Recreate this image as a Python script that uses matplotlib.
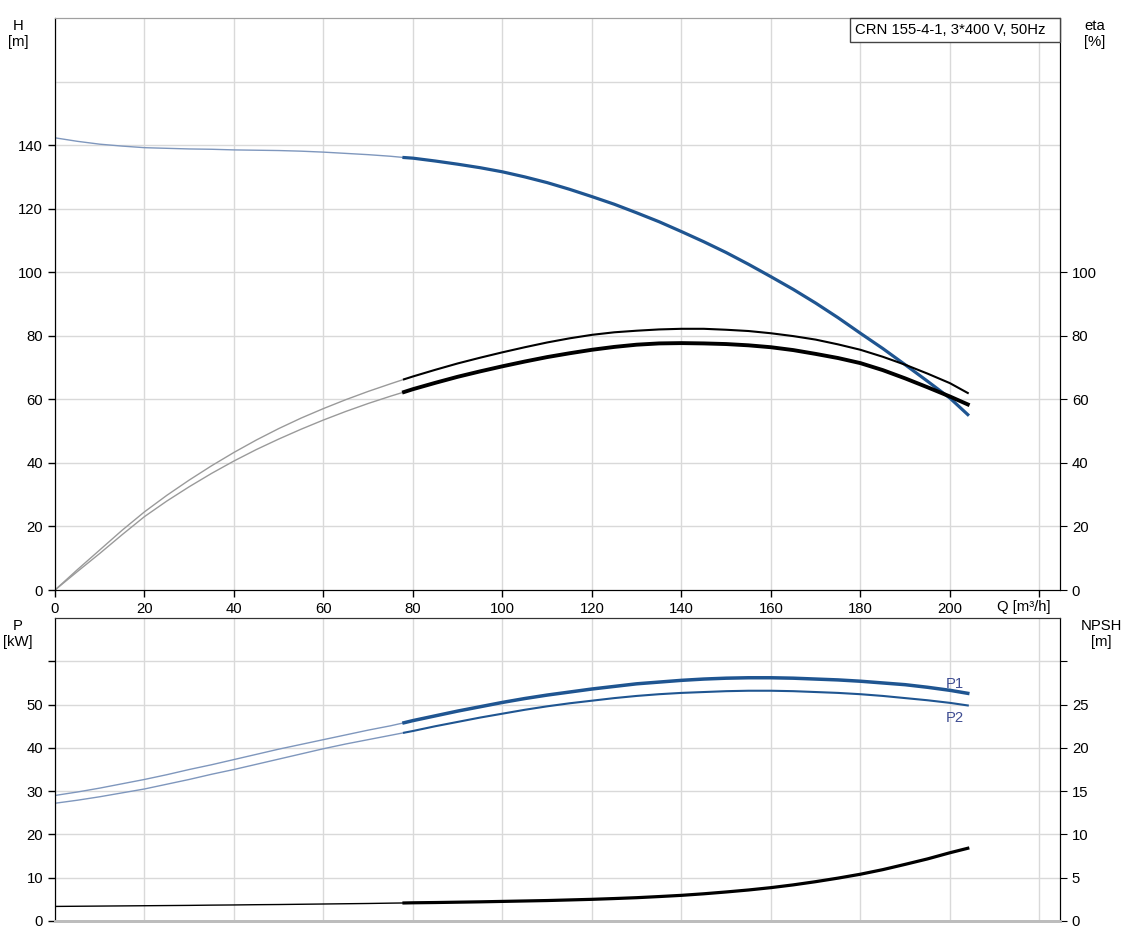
import numpy as np
import matplotlib.pyplot as plt
from matplotlib.patches import Rectangle

plt.rcParams['font.family'] = ['Liberation Sans', 'DejaVu Sans']
plt.rcParams['font.size'] = 10.7

# values (Q in m3/h)
q = [0, 5, 10, 15, 20, 25, 30, 35, 40, 45, 50, 55, 60, 65, 70, 75, 78, 80, 85, 90, 95, 100,
     105, 110, 115, 120, 125, 130, 135, 140, 145, 150, 155, 160, 165, 170, 175, 180, 185, 190,
     195, 200, 204]
head = [142.3, 141.2, 140.3, 139.7, 139.2, 139.0, 138.8, 138.7, 138.5, 138.4, 138.3, 138.1,
        137.8, 137.4, 137.0, 136.5, 136.1, 135.9, 135.0, 134.0, 132.9, 131.6, 130.0, 128.2,
        126.1, 123.8, 121.4, 118.7, 115.9, 112.8, 109.6, 106.2, 102.5, 98.6, 94.6, 90.3, 85.7,
        80.8, 76.0, 70.9, 65.7, 60.4, 55.2]
eta_pump = [0, 6.4, 12.6, 18.8, 24.6, 29.8, 34.6, 39.1, 43.3, 47.2, 50.8, 54.1, 57.1, 59.9,
            62.5, 64.9, 66.3, 67.2, 69.3, 71.3, 73.1, 74.8, 76.4, 77.9, 79.2, 80.3, 81.1, 81.6,
            82.0, 82.2, 82.2, 81.9, 81.5, 80.8, 79.9, 78.8, 77.3, 75.6, 73.4, 70.9, 68.1, 65.1,
            62.0]
eta_total = [0, 5.8, 11.5, 17.4, 23.1, 28.0, 32.5, 36.7, 40.6, 44.2, 47.5, 50.6, 53.5, 56.2,
             58.7, 61.0, 62.3, 63.2, 65.2, 67.1, 68.8, 70.4, 71.9, 73.3, 74.5, 75.6, 76.5, 77.2,
             77.6, 77.7, 77.6, 77.4, 77.0, 76.4, 75.5, 74.3, 73.0, 71.4, 69.2, 66.6, 63.8, 60.9,
             58.4]
p1 = [29.0, 29.8, 30.7, 31.7, 32.7, 33.8, 35.0, 36.1, 37.3, 38.5, 39.7, 40.8, 41.9, 43.0, 44.1,
      45.1, 45.8, 46.3, 47.4, 48.5, 49.5, 50.5, 51.4, 52.2, 52.9, 53.6, 54.2, 54.8, 55.2, 55.6,
      55.9, 56.1, 56.2, 56.2, 56.1, 55.9, 55.7, 55.4, 55.0, 54.6, 54.0, 53.3, 52.6]
p2 = [27.2, 27.9, 28.7, 29.6, 30.5, 31.6, 32.7, 33.9, 35.0, 36.2, 37.4, 38.6, 39.8, 40.9, 41.9,
      42.9, 43.5, 43.9, 45.0, 46.0, 47.0, 47.9, 48.8, 49.6, 50.3, 50.9, 51.5, 52.0, 52.4, 52.7,
      52.9, 53.1, 53.2, 53.2, 53.1, 52.9, 52.7, 52.4, 52.0, 51.5, 51.0, 50.4, 49.8]
npsh = [1.68, 1.70, 1.72, 1.74, 1.76, 1.78, 1.80, 1.83, 1.85, 1.88, 1.90, 1.93, 1.96, 1.99,
        2.02, 2.06, 2.08, 2.10, 2.13, 2.17, 2.21, 2.26, 2.31, 2.36, 2.43, 2.50, 2.59, 2.69,
        2.82, 2.96, 3.14, 3.35, 3.58, 3.85, 4.17, 4.54, 4.95, 5.40, 5.93, 6.54, 7.17, 7.88, 8.40]

q_min_flow = 78  # bold part starts here
title = 'CRN 155-4-1, 3*400 V, 50Hz'

blue = '#1f5591'
thin_blue = '#7f97bd'
grid_c = '#d9d9d9'
label_c = '#3f4d92'

q = np.array(q)
lo = q <= q_min_flow
hi = q >= q_min_flow

fig = plt.figure(figsize=(11.34, 9.44), dpi=100)
ax1 = fig.add_axes([0.0485, 0.375, 0.8862, 0.6059])
ax2 = fig.add_axes([0.0485, 0.0244, 0.8862, 0.3209])


def style(ax, ylim, grid_y):
    ax.set_xlim(0, 224.6)
    ax.set_ylim(*ylim)
    ax.set_xticks(np.arange(0, 221, 20))
    for x in np.arange(0, 221, 20):
        ax.axvline(x, color=grid_c, lw=1, zorder=0)
    for y in grid_y:
        ax.axhline(y, color=grid_c, lw=1, zorder=0)
    ax.tick_params(direction='out', length=5, width=1, colors='black', labelsize=10.7)


# ---- top: head + efficiency
style(ax1, (0, 180), np.arange(20, 161, 20))
ax1.set_yticks(np.arange(0, 141, 20))
ax1.set_xticklabels([str(v) for v in range(0, 201, 20)] + [''])
ax1.text(216.5, -3.0, 'Q [m³/h]', ha='center', va='top', fontsize=10.7)

ax1.plot(q[lo], np.array(head)[lo], color=thin_blue, lw=1.0)
ax1.plot(q[hi], np.array(head)[hi], color=blue, lw=2.3)
ax1.plot(q[lo], np.array(eta_pump)[lo], color='#9a9a9a', lw=1.0)
ax1.plot(q[hi], np.array(eta_pump)[hi], color='black', lw=1.5)
ax1.plot(q[lo], np.array(eta_total)[lo], color='#9a9a9a', lw=1.0)
ax1.plot(q[hi], np.array(eta_total)[hi], color='black', lw=2.8)

ax1e = ax1.twinx()
ax1e.set_ylim(0, 180)
ax1e.set_yticks(np.arange(0, 101, 20))
ax1e.tick_params(direction='out', length=5, labelsize=10.7)

for a in (ax1, ax1e):
    a.spines['top'].set_color('#a0a0a0')
    a.spines['left'].set_color('black')
    a.spines['right'].set_color('black')

fig.text(18 / 1134, 1 - 34 / 944, 'H\n[m]', ha='center', va='center', fontsize=10.7, linespacing=1.25)
fig.text(1095 / 1134, 1 - 34 / 944, 'eta\n[%]', ha='center', va='center', fontsize=10.7, linespacing=1.25)

# title box in the top right corner
bx0, by0 = 850 / 1134, 1 - 42 / 944
fig.patches.append(Rectangle((bx0, by0), (1060 - 850) / 1134, 24 / 944, transform=fig.transFigure,
                             fc='white', ec='#444444', lw=1, zorder=5))
fig.text(855 / 1134, 1 - 30 / 944, title, ha='left', va='center', fontsize=10.7, zorder=6)

# ---- bottom: power + NPSH
style(ax2, (0, 70), np.arange(10, 61, 10))
ax2.set_yticks(np.arange(0, 61, 10))
ax2.set_yticklabels([str(v) for v in range(0, 51, 10)] + [''])
ax2.set_xticklabels([])
ax2.tick_params(axis='x', length=0)

ax2.plot(q[lo], np.array(p1)[lo], color=thin_blue, lw=1.0)
ax2.plot(q[hi], np.array(p1)[hi], color=blue, lw=2.5)
ax2.plot(q[lo], np.array(p2)[lo], color=thin_blue, lw=1.0)
ax2.plot(q[hi], np.array(p2)[hi], color=blue, lw=1.5)
ax2.text(201.1, 54.8, 'P1', color=label_c, fontsize=10.7, ha='center', va='center')
ax2.text(201.1, 47.0, 'P2', color=label_c, fontsize=10.7, ha='center', va='center')

ax2n = ax2.twinx()
ax2n.set_ylim(0, 35)
ax2n.set_yticks(np.arange(0, 31, 5))
ax2n.set_yticklabels([str(v) for v in range(0, 26, 5)] + [''])
ax2n.tick_params(direction='out', length=5, labelsize=10.7)
ax2n.plot(q[lo], np.array(npsh)[lo], color='black', lw=1.0)
ax2n.plot(q[hi], np.array(npsh)[hi], color='black', lw=2.3)

for a in (ax2, ax2n):
    a.spines['bottom'].set_color('#bdbdbd')
    a.spines['bottom'].set_linewidth(2)
    a.spines['top'].set_color('#333333')

fig.text(18 / 1134, 1 - 634 / 944, 'P\n[kW]', ha='center', va='center', fontsize=10.7, linespacing=1.25)
fig.text(1101 / 1134, 1 - 634 / 944, 'NPSH\n[m]', ha='center', va='center', fontsize=10.7, linespacing=1.25)

fig.savefig('out.png', dpi=100)
